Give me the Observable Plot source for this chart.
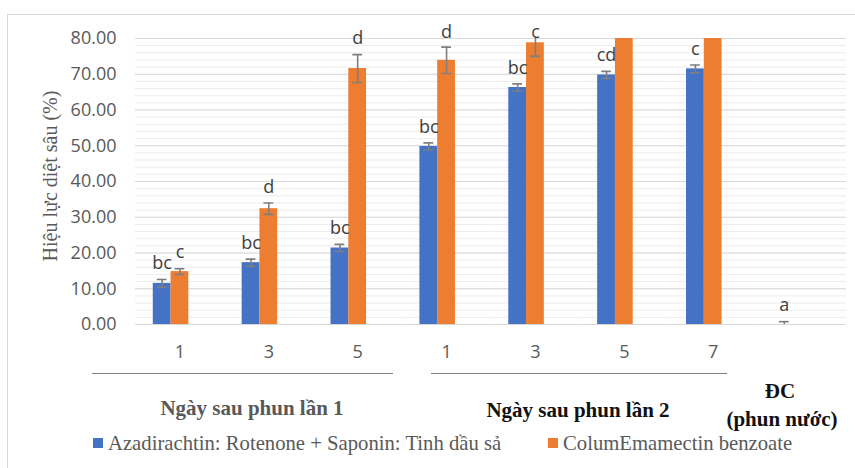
<!DOCTYPE html>
<html lang="vi">
<head>
<meta charset="utf-8">
<script src="https://cdn.jsdelivr.net/npm/d3@7"></script>
<script src="https://cdn.jsdelivr.net/npm/@observablehq/plot@0.6"></script>
<style>
  html, body { margin: 0; padding: 0; background: #fff; }
  #wrap { position: relative; width: 855px; height: 468px; overflow: hidden; }
  #frame { position: absolute; left: 7px; top: 14px; width: 900px; height: 500px; border: 1px solid #d9d9d9; box-sizing: border-box; }
  #chart { position: absolute; left: 0; top: 0; }
  .abs { position: absolute; white-space: nowrap; }
  .serif { font-family: "Liberation Serif", "Times New Roman", serif; }
  .center { transform: translate(-50%, -50%); }
  .grp { font-weight: bold; font-size: 21px; }
  .rule { position: absolute; height: 0; border-top: 1.3px solid #7f7f7f; }
  .swatch { position: absolute; width: 10px; height: 10px; }
  .leg { font-size: 20.7px; color: #595959; transform: translateY(-50%); }
</style>
</head>
<body>
<div id="wrap">
  <div id="frame"></div>
  <div id="chart"></div>
</div>
<script>
// Days after spraying (two spraying rounds) plus the water-sprayed control
const categories = ["L1-1", "L1-3", "L1-5", "L2-1", "L2-3", "L2-5", "L2-7", "DC"];
const tickLabels = ["1", "3", "5", "1", "3", "5", "7", ""];

const seriesNames = [
  "Azadirachtin: Rotenone + Saponin: Tinh dầu sả",
  "ColumEmamectin benzoate",
  "spacer"
];

// Insect mortality efficacy (%) with error and significance letters
const azaValues  = [11.5, 17.3, 21.4, 49.8, 66.3, 69.8, 71.5, 0.0];
const azaErrors  = [1.1, 1.0, 1.0, 1.0, 1.0, 1.0, 1.1, 0.8];
const azaLetters = ["bc", "bc", "bc", "bc", "bc", "cd", "c", "a"];

const emaValues  = [14.8, 32.4, 71.6, 73.9, 78.8, 84.0, 85.0];
const emaErrors  = [0.8, 1.6, 3.9, 3.7, 3.8, 2.0, 2.0];
const emaLetters = ["c", "d", "d", "d", "c", "", ""];

const yTicks = [0, 10, 20, 30, 40, 50, 60, 70, 80];
const yMinorTicks = d3.range(0, 81, 2);

const colors = ["#4472C4", "#ED7D31", "transparent"];

const rows = [
  ...azaValues.map((v, i) => ({cat: categories[i], series: seriesNames[0], value: v, err: azaErrors[i], letter: azaLetters[i]})),
  ...emaValues.map((v, i) => ({cat: categories[i], series: seriesNames[1], value: v, err: emaErrors[i], letter: emaLetters[i]}))
];

const labelOf = new Map(categories.map((c, i) => [c, tickLabels[i]]));

const chart = Plot.plot({
  width: 855,
  height: 368,
  marginTop: 38,
  marginBottom: 44,
  marginLeft: 135,
  marginRight: 9,
  facet: {marginLeft: 0, marginRight: 0, marginTop: 0, marginBottom: 0},
  style: {fontFamily: "'Open Sans', sans-serif", fontSize: "18px", color: "#595959", background: "transparent", overflow: "visible"},
  fx: {domain: categories, padding: 0, round: false, axis: "bottom", label: null, tickSize: 0, tickPadding: 21, tickFormat: c => labelOf.get(c)},
  x: {type: "band", domain: seriesNames, paddingInner: 0, paddingOuter: 1, round: false, axis: null},
  y: {domain: [0, 80], ticks: yTicks, tickFormat: d => d.toFixed(2), tickSize: 0, tickPadding: 19, label: null},
  color: {domain: seriesNames, range: colors},
  marks: [
    Plot.ruleY(yMinorTicks, {stroke: "#ececec", strokeWidth: 1}),
    Plot.ruleY(yTicks, {stroke: "#d9d9d9", strokeWidth: 1.2}),
    Plot.barY(rows, {fx: "cat", x: "series", y: "value", fill: "series", clip: true}),
    Plot.ruleX(rows, {fx: "cat", x: "series", y1: d => d.value - d.err, y2: d => d.value + d.err, stroke: "#7f7f7f", strokeWidth: 1.6, clip: true}),
    Plot.tickY(rows, {fx: "cat", x: "series", y: d => d.value + d.err, stroke: "#7f7f7f", strokeWidth: 1.6, insetLeft: 4, insetRight: 4, clip: true}),
    Plot.tickY(rows, {fx: "cat", x: "series", y: d => Math.max(0, d.value - d.err), stroke: "#7f7f7f", strokeWidth: 1.6, insetLeft: 4, insetRight: 4, clip: true, filter: d => d.value > 0}),
    // significance letters sit above the error bar, kept just above the plot top
    Plot.text(rows.filter(d => d.letter), {fx: "cat", x: "series", y: d => Math.min(d.value + d.err + 4.5, 81.8), text: "letter", fill: "#404040", fontSize: 18})
  ]
});
document.getElementById("chart").appendChild(chart);

// Axis title, day-group captions and legend
const wrap = document.getElementById("wrap");
function add(html) { wrap.insertAdjacentHTML("beforeend", html); }
add(`<div class="abs serif" style="left:50px;top:176px;font-size:20px;color:#595959;transform:translate(-50%,-50%) rotate(-90deg);">Hiệu lực diệt sâu (%)</div>`);
add(`<div class="rule" style="left:92px;top:373px;width:301px;"></div>`);
add(`<div class="rule" style="left:431px;top:373px;width:296px;"></div>`);
add(`<div class="abs serif grp center" style="left:252px;top:408px;color:#595959;">Ngày sau phun lần 1</div>`);
add(`<div class="abs serif grp center" style="left:578px;top:410px;color:#111;">Ngày sau phun lần 2</div>`);
add(`<div class="abs serif grp center" style="left:780px;top:391px;color:#111;">ĐC</div>`);
add(`<div class="abs serif grp center" style="left:782px;top:419px;color:#111;">(phun nước)</div>`);
add(`<div class="swatch" style="left:93px;top:438px;background:${colors[0]};"></div>`);
add(`<div class="abs serif leg" style="left:108px;top:443px;">${seriesNames[0]}</div>`);
add(`<div class="swatch" style="left:548px;top:438px;background:${colors[1]};"></div>`);
add(`<div class="abs serif leg" style="left:563px;top:443px;">${seriesNames[1]}</div>`);
</script>
</body>
</html>
